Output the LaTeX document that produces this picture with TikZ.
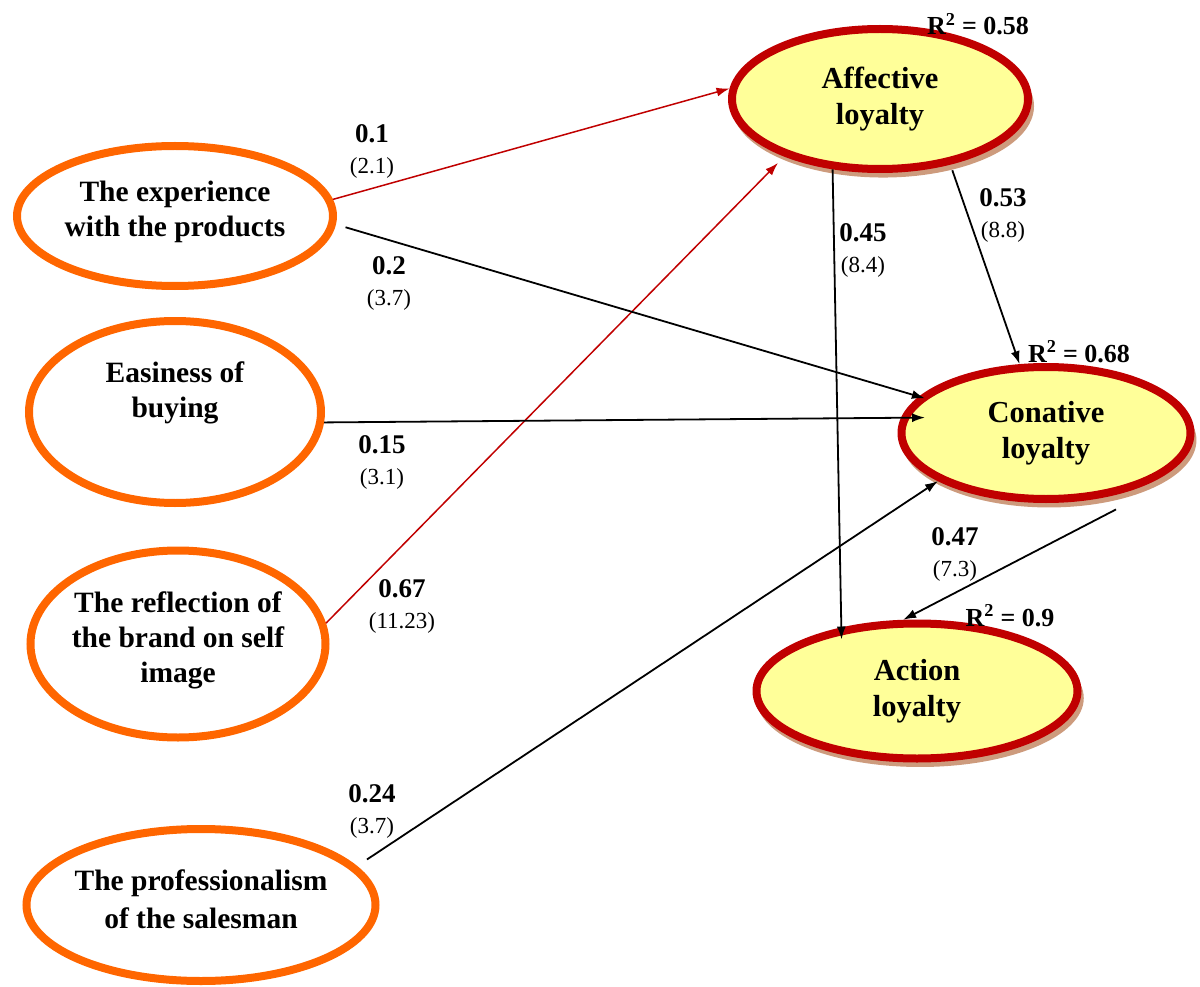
\documentclass[tikz,border=0pt]{standalone}
\usepackage{fontspec}
\setmainfont{Liberation Serif}
\usepackage{xcolor}
\usetikzlibrary{arrows.meta,shapes.geometric,shadows}
\definecolor{constructorange}{RGB}{255, 102, 0}
\definecolor{loyaltyred}{RGB}{192, 0, 0}
\definecolor{loyaltyyellow}{RGB}{255, 255, 153}
\definecolor{shadowtan}{RGB}{205, 155, 125}
\definecolor{textblack}{RGB}{0, 0, 0}

\begin{document}
\begin{tikzpicture}[
        x=1pt, y=-1pt,
        construct/.style={ellipse, draw=constructorange, line width=8pt, inner sep=0pt},
        constructtext/.style={align=center, font=\fontsize{29.5}{35}\selectfont\bfseries, text=textblack},
        loyalty/.style={ellipse, draw=loyaltyred, line width=8pt, fill=loyaltyyellow, inner sep=0pt, align=center, font=\fontsize{30.5}{36}\selectfont\bfseries, text=textblack, drop shadow={shadow xshift=3pt, shadow yshift=-7pt, shadow scale=1.02, fill=shadowtan, opacity=1}},
        link/.style={-{Latex[length=13pt, width=9pt]}, line width=1.8pt, color=black},
        redlink/.style={link, line width=1.5pt, color=loyaltyred},
        coef/.style={align=center, font=\fontsize{23}{31}\selectfont, text=textblack},
        rsq/.style={anchor=base, font=\fontsize{26}{30}\selectfont\bfseries, text=textblack}
    ]
    \useasboundingbox (0,0) rectangle (1200,987);

    % Antecedents
    \node[construct, minimum width=316pt, minimum height=140pt, label={[constructtext, yshift=4pt]center:{The experience\\with the products}}] (experience) at (175,216) {};
    \node[construct, minimum width=292pt, minimum height=182pt, label={[constructtext, yshift=19pt]center:{Easiness of\\buying}}] (easiness) at (175,412) {};
    \node[construct, minimum width=295pt, minimum height=187pt, label={[constructtext, yshift=4pt]center:{The reflection of\\the brand on self\\image}}] (reflection) at (178,644) {};
    \node[construct, minimum width=349pt, minimum height=152pt, label={[constructtext, yshift=6pt, font=\fontsize{29.5}{38}\selectfont\bfseries]center:{The professionalism\\of the salesman}}] (professionalism) at (201,905) {};

    % Loyalty stages
    \node[loyalty, minimum width=296pt, minimum height=140pt] (affective) at (880,99) {Affective\\loyalty};
    \node[loyalty, minimum width=289pt, minimum height=132pt] (conative) at (1046,433) {Conative\\loyalty};
    \node[loyalty, minimum width=321pt, minimum height=135pt] (action) at (917,691) {Action\\loyalty};

    % R squared
    \node[rsq] (r2-affective) at (978,35) {R\textsuperscript{2} = 0.58};
    \node[rsq] (r2-conative) at (1079,362) {R\textsuperscript{2} = 0.68};
    \node[rsq] (r2-action) at (1010,626) {R\textsuperscript{2} = 0.9};

    % Paths
    \draw[redlink] (experience.6) -- (affective.176);
    \draw[redlink, shorten >=9pt] (reflection.8) -- (affective.211);
    \draw[link, shorten <=10pt, shorten >=-6pt] (experience.-3) -- (conative.164);
    \draw[link, shorten >=-24pt] (easiness.-4) -- (conative.174.5);
    \draw[link, shorten <=12pt] (professionalism.14) -- (conative.204);
    \draw[link, shorten >=-12pt] (affective.236) -- (action.140);
    \draw[link, shorten <=6pt] (affective.-43) -- (conative.111);
    \draw[link] ([xshift=12pt, yshift=-12pt]conative.-48) -- (action.101);

    % Coefficients
    \node[coef] (c-exp-aff) at (372,151) {{\fontsize{27}{31}\selectfont\bfseries 0.1}\\(2.1)};
    \node[coef] (c-exp-con) at (389,283) {{\fontsize{27}{31}\selectfont\bfseries 0.2}\\(3.7)};
    \node[coef] (c-eas-con) at (382,462) {{\fontsize{27}{31}\selectfont\bfseries 0.15}\\(3.1)};
    \node[coef] (c-ref-aff) at (402,606) {{\fontsize{27}{31}\selectfont\bfseries 0.67}\\(11.23)};
    \node[coef] (c-pro-con) at (372,811) {{\fontsize{27}{31}\selectfont\bfseries 0.24}\\(3.7)};
    \node[coef] (c-aff-act) at (863,250) {{\fontsize{27}{31}\selectfont\bfseries 0.45}\\(8.4)};
    \node[coef] (c-aff-con) at (1003,215) {{\fontsize{27}{31}\selectfont\bfseries 0.53}\\(8.8)};
    \node[coef] (c-con-act) at (955,554) {{\fontsize{27}{31}\selectfont\bfseries 0.47}\\(7.3)};

\end{tikzpicture}
\end{document}
